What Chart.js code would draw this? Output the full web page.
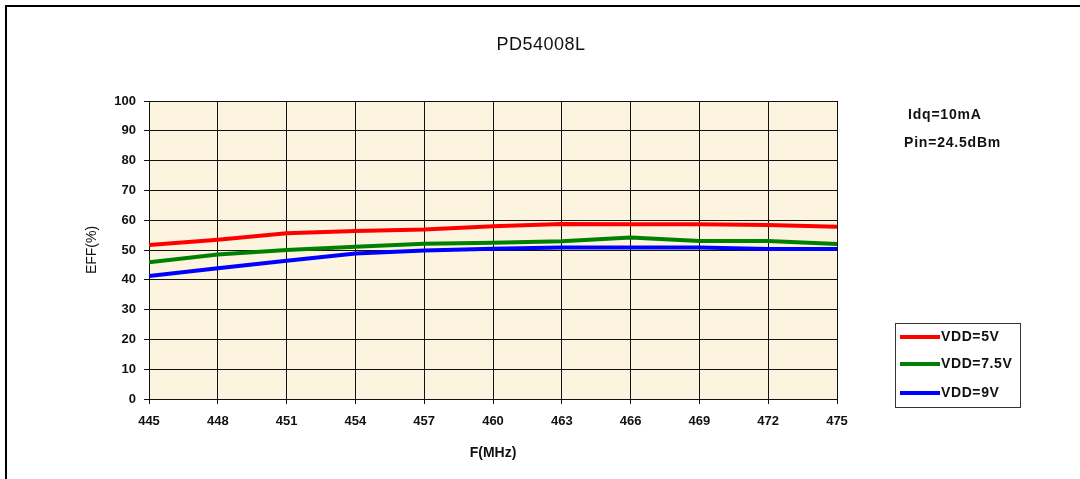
<!DOCTYPE html>
<html>
<head>
<meta charset="utf-8">
<script src="https://cdn.jsdelivr.net/npm/chart.js@4/dist/chart.umd.min.js"></script>
<style>
  body { margin: 0; background: #fff; font-family: "Liberation Sans", Arial, sans-serif; }
  #wrap { position: relative; width: 1080px; height: 479px; overflow: hidden; }
  #frame { position: absolute; left: 5px; top: 5px; right: -4px; bottom: -4px; border-left: 2px solid #000; border-top: 2px solid #000; }
  .txt { position: absolute; color: #111; white-space: nowrap; }
  #title { left: 0; width: 1082px; top: 34px; text-align: center; font-size: 18px; letter-spacing: 0.5px; }
  .note { font-size: 14px; font-weight: bold; letter-spacing: 0.8px; }
  #legend { position: absolute; left: 895px; top: 323px; width: 124px; height: 83px; border: 1.5px solid #333; }
  .item { position: absolute; left: 4px; font-size: 14px; font-weight: bold; color: #111; letter-spacing: 0.6px; }
  .item span.sw { display: inline-block; width: 40px; height: 4px; vertical-align: middle; margin-right: 1px; }
</style>
</head>
<body>
<div id="wrap">
  <canvas id="effChart" width="1080" height="479"></canvas>
  <div id="frame"></div>
  <div id="title" class="txt">PD54008L</div>
  <div class="txt note" style="left:908px; top:106px;">Idq=10mA</div>
  <div class="txt note" style="left:904px; top:134px;">Pin=24.5dBm</div>
  <div id="legend"></div>
</div>
<script>
// frequency points (MHz)
const freqs = [445, 448, 451, 454, 457, 460, 463, 466, 469, 472, 475];

// drain efficiency (%) per supply voltage
const eff5V   = [51.7, 53.4, 55.6, 56.4, 56.9, 58.0, 58.7, 58.6, 58.6, 58.4, 57.8];
const eff75V  = [45.9, 48.5, 50.0, 51.1, 52.1, 52.4, 52.9, 54.2, 53.0, 53.0, 52.0];
const eff9V   = [41.3, 43.9, 46.4, 48.8, 49.8, 50.4, 50.8, 50.8, 50.8, 50.3, 50.3];

const seriesLabels = ['VDD=5V', 'VDD=7.5V', 'VDD=9V'];
const seriesColors = ['#ff0000', '#008000', '#0000ff'];
const seriesData = [eff5V, eff75V, eff9V];

const tickFont = { family: 'Liberation Sans', size: 13, weight: 'bold' };

// cream plot background
const plotBg = {
    id: 'plotBg',
    beforeDraw(chart) {
        const a = chart.chartArea;
        const ctx = chart.ctx;
        ctx.save();
        ctx.fillStyle = '#fcf4de';
        ctx.fillRect(a.left, a.top, a.right - a.left, a.bottom - a.top);
        ctx.restore();
    }
};

const datasets = seriesData.map((vals, i) => ({
    label: seriesLabels[i],
    data: freqs.map((f, j) => ({ x: f, y: vals[j] })),
    borderColor: seriesColors[i],
    backgroundColor: seriesColors[i],
    borderWidth: 4,
    pointRadius: 0,
    tension: 0
}));

new Chart(document.getElementById('effChart').getContext('2d'), {
    type: 'line',
    data: { datasets: datasets },
    options: {
        responsive: false,
        devicePixelRatio: 1,
        animation: false,
        layout: { padding: { top: 101, right: 243, left: 0, bottom: 0 } },
        plugins: { legend: { display: false }, tooltip: { enabled: false } },
        scales: {
            x: {
                type: 'linear',
                min: 445,
                max: 475,
                afterFit: s => { s.height = 80; },
                ticks: { stepSize: 3, color: '#111', font: tickFont, padding: 10, maxRotation: 0 },
                grid: { color: '#111', lineWidth: 1, tickLength: 5 },
                border: { color: '#111', width: 1 },
                title: {
                    display: true, text: 'F(MHz)', color: '#111',
                    font: { family: 'Liberation Sans', size: 14, weight: 'bold' },
                    padding: { top: 0, bottom: 17 }
                }
            },
            y: {
                min: 0,
                max: 100,
                afterFit: s => { s.width = 149; },
                ticks: { stepSize: 10, color: '#111', font: tickFont, padding: 8 },
                grid: { color: '#111', lineWidth: 1, tickLength: 5 },
                border: { color: '#111', width: 1 },
                title: {
                    display: true, text: 'EFF(%)', color: '#111',
                    font: { family: 'Liberation Sans', size: 14 },
                    padding: { top: 84, bottom: 0 }
                }
            }
        }
    },
    plugins: [plotBg]
});

// legend box
const legend = document.getElementById('legend');
const legendTops = [4, 31, 60];
seriesLabels.forEach((lab, i) => {
    const d = document.createElement('div');
    d.className = 'item';
    d.style.top = legendTops[i] + 'px';
    d.innerHTML = '<span class="sw" style="background:' + seriesColors[i] + '"></span>' + lab;
    legend.appendChild(d);
});
</script>
</body>
</html>
